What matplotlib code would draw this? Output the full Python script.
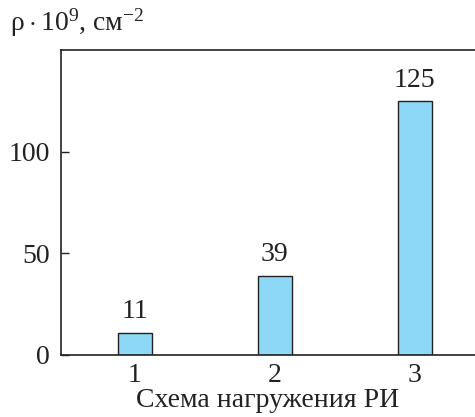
import matplotlib
matplotlib.use('Agg')
import matplotlib.pyplot as plt

plt.rcParams['font.family'] = ['Liberation Serif', 'DejaVu Serif']
plt.rcParams['mathtext.fontset'] = 'custom'
plt.rcParams['mathtext.rm'] = 'Liberation Serif'
plt.rcParams['mathtext.it'] = 'Liberation Serif'

schemes = [1, 2, 3]
rho = [11, 39, 125]
yticks = [0, 50, 100]

fig = plt.figure(figsize=(4.75, 4.17), dpi=100)
ax = fig.add_axes([0.128, 0.149, 0.872, 0.731])

bars = ax.bar(schemes, rho, width=0.245, color='#8dd8f6', edgecolor='#222222', linewidth=1.0)
for x, v in zip(schemes, rho):
    ax.text(x, v + 4, str(v), ha='center', va='bottom', fontsize=20, color='#222222')

ax.set_xlim(0.47, 3.43)
ax.set_ylim(0, 150)
ax.set_xticks(schemes)
ax.set_yticks(yticks)
ax.tick_params(axis='y', direction='in', length=6, width=1, labelsize=20, pad=8, colors='#222222')
ax.tick_params(axis='x', length=0, labelsize=20, pad=6, colors='#222222')
ax.spines['right'].set_visible(False)
for s in ['left', 'top', 'bottom']:
    ax.spines[s].set_color('#222222')
    ax.spines[s].set_linewidth(1.2)

ax.set_xlabel('Схема нагружения РИ', fontsize=20, color='#222222', labelpad=0)
fig.text(0.022, 0.945, r'$\rho\cdot10^9$, см$^{-2}$', fontsize=20, color='#222222', va='center')

fig.savefig('out.png', dpi=100)
